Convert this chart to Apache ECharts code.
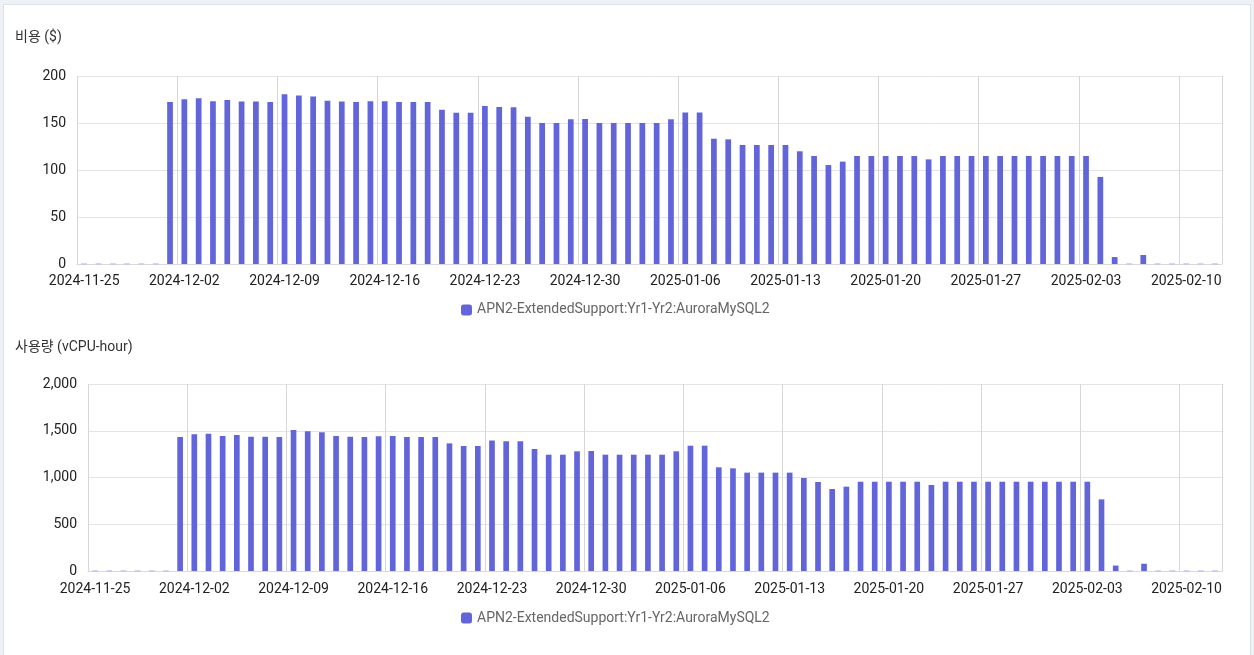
<!DOCTYPE html>
<html>
<head>
<meta charset="utf-8">
<script src="https://cdn.jsdelivr.net/npm/echarts@6/dist/echarts.min.js"></script>
<style>
  html, body { margin: 0; padding: 0; width: 1254px; height: 655px; overflow: hidden; background: #eef2f7; }
  #frame { position: absolute; left: 3px; top: 4px; width: 1246px; height: 660px; background: #fff; border: 1px solid #dde2ea; }
  #chart { position: absolute; left: 0; top: 0; width: 1254px; height: 655px; }
</style>
</head>
<body>
<div id="frame"></div>
<div id="chart"></div>
<script>
// ---- data ----
const startDate = '2024-11-25';
const dayCount = 80;
const seriesName = 'APN2-ExtendedSupport:Yr1-Yr2:AuroraMySQL2';
const costTitle = '비용 ($)';
const usageTitle = '사용량 (vCPU-hour)';

// daily cost ($), 2024-11-25 .. 2025-02-12
const costValues = [
  0, 0, 0, 0, 0, 0,
  172.4, 175.3, 176.3, 173.1, 174.6, 172.8, 172.8, 172.4, 180.6, 179.2,
  178.1, 173.8, 172.8, 172.4, 173.1, 173.1, 172.4, 172.4, 172.4, 164.2,
  161.0, 161.0, 168.0, 167.0, 166.7, 156.7, 150.0, 150.0, 153.9, 154.3,
  150.0, 150.0, 150.0, 150.0, 150.0, 153.9, 161.3, 161.3, 133.3, 132.6,
  126.6, 126.6, 126.6, 126.6, 119.9, 114.9, 105.3, 108.9, 114.9, 114.9,
  114.9, 114.9, 114.9, 111.3, 114.9, 114.9, 114.9, 114.9, 114.9, 114.9,
  114.9, 114.9, 114.9, 114.9, 114.9, 92.6, 7.4, 0, 9.6, 0,
  0, 0, 0, 0
];

// daily usage (vCPU-hour), 2024-11-25 .. 2025-02-12
const usageValues = [
  0, 0, 0, 0, 0, 0,
  1433, 1462, 1469, 1444, 1455, 1437, 1437, 1433, 1508, 1494,
  1483, 1444, 1437, 1433, 1440, 1444, 1433, 1433, 1433, 1365,
  1337, 1337, 1397, 1387, 1387, 1305, 1244, 1244, 1280, 1283,
  1244, 1244, 1244, 1244, 1244, 1280, 1340, 1340, 1109, 1098,
  1052, 1052, 1052, 1052, 995, 952, 877, 902, 955, 955,
  955, 955, 955, 920, 955, 955, 955, 955, 955, 955,
  955, 955, 955, 955, 955, 766, 58, 0, 78, 0,
  0, 0, 0, 0
];

const costTicks = { min: 0, max: 200, interval: 50 };
const usageTicks = { min: 0, max: 2000, interval: 500 };

// ---- build categories (dates) ----
function buildDates(start, n) {
  const out = [];
  const d0 = new Date(start + 'T00:00:00Z');
  for (let i = 0; i < n; i++) {
    const d = new Date(d0.getTime() + i * 86400000);
    out.push(d.toISOString().slice(0, 10));
  }
  return out;
}
const dates = buildDates(startDate, dayCount);

// ---- styles ----
const FONT = 'Roboto, "Noto Sans CJK KR", sans-serif';
const BAR_COLOR = '#6264da';

function toItems(vals) {
  return vals.map(v => v === 0
    ? { value: 0, itemStyle: { borderColor: '#c3c4f3', borderWidth: 1 } }
    : v);
}

function xAxisFor(gridIndex) {
  return {
    type: 'category',
    gridIndex,
    data: dates,
    boundaryGap: true,
    axisLine: { show: true, lineStyle: { color: '#d9d9d9' } },
    axisTick: { show: false, interval: 6 },
    axisLabel: { interval: 6, color: '#222', fontSize: 14, fontFamily: FONT, margin: 11 },
    splitLine: { show: true, interval: 6, lineStyle: { color: '#d6d6d6', width: 1 } }
  };
}
function yAxisFor(gridIndex, t) {
  return {
    type: 'value',
    gridIndex,
    min: t.min, max: t.max, interval: t.interval,
    axisLine: { show: false },
    axisTick: { show: false },
    axisLabel: {
      color: '#222', fontSize: 14, fontFamily: FONT, margin: 11,
      formatter: v => v.toLocaleString('en-US')
    },
    splitLine: { show: true, lineStyle: { color: '#e4e4e4', width: 1 } }
  };
}
function legendFor(top) {
  return {
    top, left: 456,
    data: [seriesName],
    icon: 'roundRect',
    itemWidth: 11, itemHeight: 11, itemGap: 10,
    textStyle: { color: '#666', fontSize: 14, fontFamily: FONT }
  };
}
const titleStyle = { fontSize: 14, fontWeight: 'normal', color: '#333', fontFamily: FONT };

const chart = echarts.init(document.getElementById('chart'), null, { renderer: 'canvas' });
chart.setOption({
  backgroundColor: 'transparent',
  animation: false,
  title: [
    { text: costTitle, left: 15, top: 31, padding: 0, textStyle: titleStyle },
    { text: usageTitle, left: 15, top: 341, padding: 0, textStyle: titleStyle }
  ],
  legend: [legendFor(298), legendFor(606)],
  grid: [
    { left: 77, right: 32, top: 76, height: 188 },
    { left: 88, right: 32, top: 384, height: 187 }
  ],
  xAxis: [xAxisFor(0), xAxisFor(1)],
  yAxis: [yAxisFor(0, costTicks), yAxisFor(1, usageTicks)],
  series: [
    { name: seriesName, type: 'bar', xAxisIndex: 0, yAxisIndex: 0, data: toItems(costValues),
      barWidth: '40%', itemStyle: { color: BAR_COLOR } },
    { name: seriesName, type: 'bar', xAxisIndex: 1, yAxisIndex: 1, data: toItems(usageValues),
      barWidth: '40%', itemStyle: { color: BAR_COLOR } }
  ]
});
</script>
</body>
</html>
